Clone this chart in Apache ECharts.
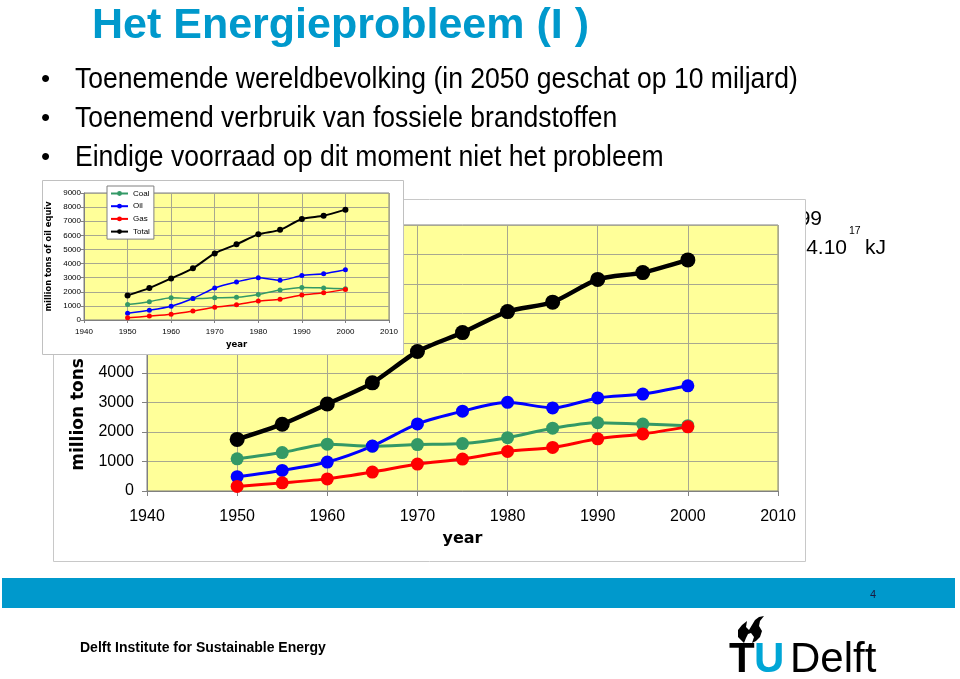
<!DOCTYPE html>
<html>
<head>
<meta charset="utf-8">
<script src="https://cdn.jsdelivr.net/npm/echarts@6/dist/echarts.min.js"></script>
<style>
html,body{margin:0;padding:0;background:#fff;}
#c{width:960px;height:679px;}
</style>
</head>
<body>
<div id="c"></div>
<script>
// ---- data ----
const years = [1950, 1955, 1960, 1965, 1970, 1975, 1980, 1985, 1990, 1995, 2000];
const coal  = [1090, 1300, 1585, 1515, 1570, 1605, 1805, 2125, 2310, 2265, 2210];
const oil   = [485, 695, 980, 1520, 2270, 2700, 3000, 2810, 3150, 3280, 3560];
const gas   = [155, 275, 410, 640, 910, 1080, 1340, 1475, 1765, 1930, 2170];
const total = [1745, 2260, 2945, 3660, 4720, 5360, 6070, 6390, 7160, 7390, 7820];
const seriesNames = ['Coal', 'Oil', 'Gas', 'Total'];
const seriesValues = [coal, oil, gas, total];
const seriesColors = ['#339966', '#0000FF', '#FF0000', '#000000'];
const xRange = [1940, 2010, 10];
const yRange = [0, 9000, 1000];
const titleText = 'Het Energieprobleem (I )';
const bullets = [
  'Toenemende wereldbevolking (in 2050 geschat op 10 miljard)',
  'Toenemend verbruik van fossiele brandstoffen',
  'Eindige voorraad op dit moment niet het probleem'
];
const axisNameY = 'million tons of oil equiv';
const axisNameX = 'year';

const chart = echarts.init(document.getElementById('c'), null, {renderer: 'canvas'});

function pairs(vals) { return years.map((y, i) => [y, vals[i]]); }
const plain = v => String(v);

const big = {left: 147, top: 225, width: 631, height: 266};
const ins = {left: 84, top: 193, width: 305, height: 127};

function makeAxes(gi, isBig) {
  const fs = isBig ? 16 : 8;
  const z = isBig ? 3 : 7;
  const x = {
    type: 'value', gridIndex: gi, min: xRange[0], max: xRange[1], interval: xRange[2], z: z,
    axisLine: {show: true, lineStyle: {color: '#808080', width: 1}},
    axisTick: {show: true, length: isBig ? 5 : 3, lineStyle: {color: '#808080'}},
    axisLabel: {fontFamily: 'Liberation Sans', fontSize: fs, color: '#000', margin: isBig ? 18 : 8, formatter: plain},
    splitLine: {show: true, lineStyle: {color: '#a8a890', width: 1}},
    name: axisNameX, nameLocation: 'middle', nameGap: isBig ? 40 : 20,
    nameTextStyle: {fontFamily: 'DejaVu Sans', fontWeight: 'bold', fontSize: isBig ? 16 : 8.5, color: '#000'}
  };
  const y = {
    type: 'value', gridIndex: gi, min: yRange[0], max: yRange[1], interval: yRange[2], z: z,
    axisLine: {show: true, lineStyle: {color: '#808080', width: 1}},
    axisTick: {show: true, length: isBig ? 5 : 3, lineStyle: {color: '#808080'}},
    axisLabel: {fontFamily: 'Liberation Sans', fontSize: fs, color: '#000', margin: isBig ? 13 : 3, formatter: plain},
    splitLine: {show: true, lineStyle: {color: '#a8a890', width: 1}},
    name: axisNameY, nameLocation: 'middle', nameGap: isBig ? 52 : 31,
    nameTextStyle: {fontFamily: 'DejaVu Sans', fontWeight: 'bold', fontSize: isBig ? 17 : 8.3, color: '#000'}
  };
  return {x, y};
}

const aBig = makeAxes(0, true);
const aIns = makeAxes(1, false);

const series = [];
seriesNames.forEach((n, i) => {
  const isTotal = n === 'Total';
  series.push({
    name: n, type: 'line', xAxisIndex: 0, yAxisIndex: 0, z: 4,
    data: pairs(seriesValues[i]), smooth: 0.25,
    symbol: 'circle', symbolSize: isTotal ? 15 : 13,
    lineStyle: {color: seriesColors[i], width: isTotal ? 4.5 : 3},
    itemStyle: {color: seriesColors[i]}
  });
});
seriesNames.forEach((n, i) => {
  const isTotal = n === 'Total';
  series.push({
    name: n, type: 'line', xAxisIndex: 1, yAxisIndex: 1, z: 8,
    data: pairs(seriesValues[i]), smooth: 0.25,
    symbol: 'circle', symbolSize: isTotal ? 6 : 5,
    lineStyle: {color: seriesColors[i], width: isTotal ? 2 : 1.5},
    itemStyle: {color: seriesColors[i]}
  });
});

const graphics = [
  {type: 'text', z: 0, style: {x: 92, y: 26, text: titleText, fill: '#0099CC', font: 'bold 43px "Liberation Sans"', verticalAlign: 'middle'}},
];
bullets.forEach((b, i) => {
  const yy = 80 + i * 39;
  graphics.push({type: 'text', z: 0, style: {x: 41, y: yy, text: '\u2022', fill: '#000', font: '26px "Liberation Sans"', verticalAlign: 'middle'}});
  graphics.push({type: 'text', z: 0, x: 75, y: yy, scaleX: 0.915, style: {x: 0, y: 0, text: b, fill: '#000', font: '29px "Liberation Sans"', verticalAlign: 'middle'}});
});
// text partly hidden behind the chart box
graphics.push({type: 'text', z: 0, style: {x: 822, y: 219.6, text: 'Wereld energieverbruik 1999', fill: '#000', font: '21px "Liberation Sans"', align: 'right', verticalAlign: 'middle'}});
graphics.push({type: 'text', z: 0, style: {x: 847, y: 248.6, text: 'Totaal ca. 4.10', fill: '#000', font: '21px "Liberation Sans"', align: 'right', verticalAlign: 'middle'}});
graphics.push({type: 'text', z: 0, style: {x: 849, y: 231, text: '17', fill: '#000', font: '10.5px "Liberation Sans"', verticalAlign: 'middle'}});
graphics.push({type: 'text', z: 0, style: {x: 865, y: 248.6, text: 'kJ', fill: '#000', font: '21px "Liberation Sans"', verticalAlign: 'middle'}});
// big chart box
graphics.push({type: 'rect', z: 1, shape: {x: 53.5, y: 199.5, width: 752, height: 362}, style: {fill: '#fff', stroke: '#c8c8c8', lineWidth: 1}});
// inset box
graphics.push({type: 'rect', z: 5, shape: {x: 42.5, y: 180.5, width: 361, height: 174}, style: {fill: '#fff', stroke: '#c0c0c0', lineWidth: 1}});
// footer
graphics.push({type: 'rect', z: 0, shape: {x: 2, y: 578, width: 953, height: 30}, style: {fill: '#0099CC'}});
graphics.push({type: 'text', z: 1, style: {x: 873, y: 595, text: '4', fill: '#1a1a40', font: '11px "Liberation Sans"', align: 'center', verticalAlign: 'middle'}});
graphics.push({type: 'text', z: 0, style: {x: 80, y: 648, text: 'Delft Institute for Sustainable Energy', fill: '#000', font: 'bold 14px "Liberation Sans"', verticalAlign: 'middle'}});
graphics.push({type: 'text', z: 0, style: {x: 729, y: 660, text: 'T', fill: '#000', font: 'bold 42px "Liberation Sans"', verticalAlign: 'middle'}});
graphics.push({type: 'text', z: 0, style: {x: 754, y: 660, text: 'U', fill: '#00A6D6', font: 'bold 42px "Liberation Sans"', verticalAlign: 'middle'}});
graphics.push({type: 'text', z: 0, style: {x: 790, y: 660, text: 'Delft', fill: '#000', font: '42px "Liberation Sans"', verticalAlign: 'middle'}});
graphics.push({type: 'polygon', z: 0, shape: {points: [[744,643],[738,637],[738,630],[742,625],[747,621],[746,627],[749,630],[752,625],[755,620],[759,617],[764,616],[760,621],[759,626],[762,631],[760,637],[756,641],[752,643],[754,637],[751,633],[748,634],[746,638]]}, style: {fill: '#000'}});

const option = {
  animation: false,
  backgroundColor: '#fff',
  grid: [
    Object.assign({show: true, backgroundColor: '#FFFF99', borderColor: '#808080', borderWidth: 1, z: 2}, big),
    Object.assign({show: true, backgroundColor: '#FFFF99', borderColor: '#808080', borderWidth: 1, z: 6}, ins)
  ],
  xAxis: [aBig.x, aIns.x],
  yAxis: [aBig.y, aIns.y],
  legend: {
    z: 9, orient: 'vertical', left: 107, top: 186,
    data: seriesNames, padding: [3, 4, 3, 3], itemGap: 3.7,
    itemWidth: 17, itemHeight: 6,
    backgroundColor: '#fff', borderColor: '#808080', borderWidth: 1,
    textStyle: {fontFamily: 'Liberation Sans', fontSize: 8, color: '#000', lineHeight: 9}
  },
  graphic: {elements: graphics},
  series: series
};
chart.setOption(option);
</script>
</body>
</html>
